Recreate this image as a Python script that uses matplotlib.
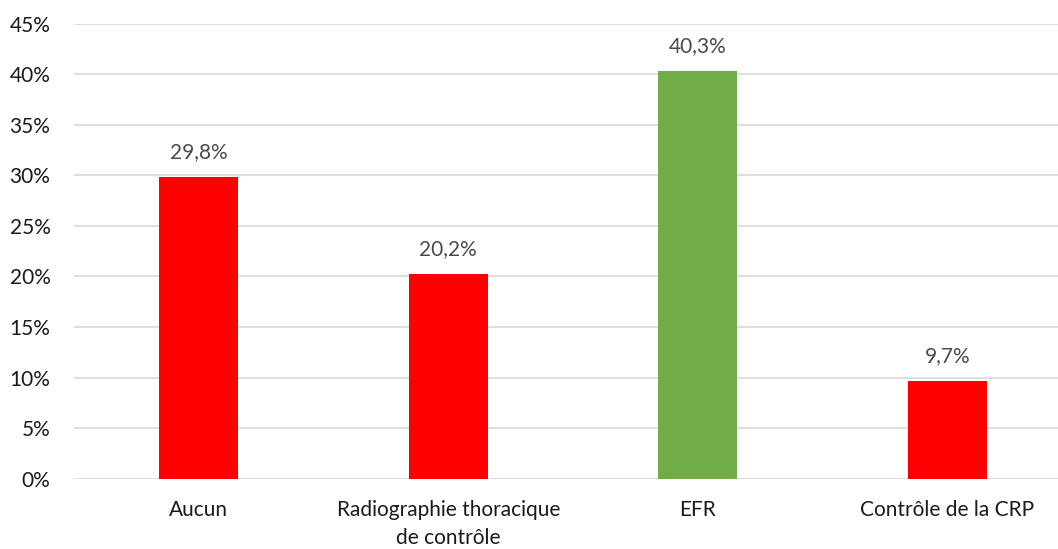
import matplotlib
matplotlib.use("Agg")
import matplotlib.pyplot as plt

categories = ["Aucun", "Radiographie thoracique\nde contrôle", "EFR", "Contrôle de la CRP"]
values = [29.8, 20.2, 40.3, 9.7]
labels = ["29,8%", "20,2%", "40,3%", "9,7%"]
colors = ["#FF0000", "#FF0000", "#70AD47", "#FF0000"]
yticks = [0, 5, 10, 15, 20, 25, 30, 35, 40, 45]
ytick_labels = [f"{t}%" for t in yticks]

plt.rcParams['font.family'] = ['Lato', 'DejaVu Sans']

W, H = 1058, 549
fig = plt.figure(figsize=(W / 100, H / 100), dpi=100)
left, right = 74, 1058
y0, y45 = 478.7, 23.6
ax = fig.add_axes([left / W, (H - y0) / H, (right - left) / W, (y0 - y45) / H])

x = list(range(len(categories)))
ax.bar(x, values, width=0.317, color=colors, zorder=3)
for xi, v, lab in zip(x, values, labels):
    ax.annotate(lab, (xi, v), xytext=(0, 18), textcoords="offset points",
                ha="center", va="center", fontsize=15, color="#4a4a4a")

ax.set_xlim(-0.5, (right - left) / 249.5 - 0.5)
ax.set_ylim(0, 45)
ax.set_yticks(yticks)
ax.set_yticklabels(ytick_labels)
ax.set_xticks(x)
ax.set_xticklabels(categories, linespacing=1.55)
ax.tick_params(axis="both", length=0, labelsize=15, colors="#1a1a1a")
ax.tick_params(axis="y", pad=17)
ax.tick_params(axis="x", pad=15)
ax.yaxis.grid(True, color="#D9D9D9", linewidth=1.2, zorder=0)
ax.set_axisbelow(True)
for s in ax.spines.values():
    s.set_visible(False)

fig.savefig("out.png", dpi=100)
